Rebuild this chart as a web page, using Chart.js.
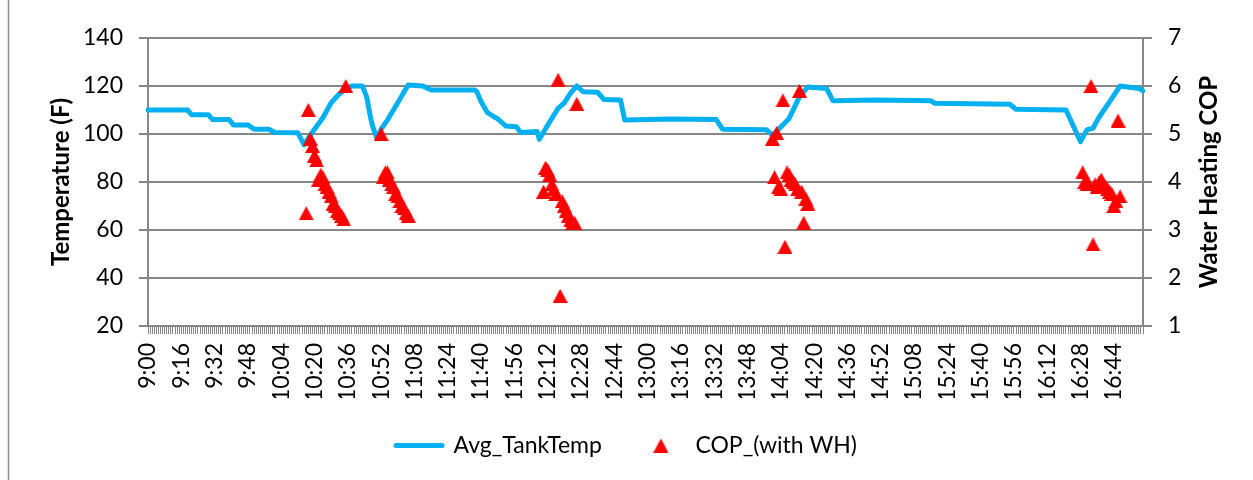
<!DOCTYPE html>
<html>
<head>
<meta charset="utf-8">
<script src="https://cdn.jsdelivr.net/npm/chart.js@4.4.1/dist/chart.umd.min.js"></script>
<style>
  html, body { margin: 0; padding: 0; background: #ffffff; }
  canvas { display: block; }
</style>
</head>
<body>
<canvas id="chart" width="1253" height="480"></canvas>
<script>
// One category per logged minute, 9:00 through 16:58
const firstMinute = 9 * 60;
const minuteCount = 479;
const categories = [];
for (let i = 0; i < minuteCount; i++) {
  const t = firstMinute + i;
  categories.push(Math.floor(t / 60) + ':' + String(t % 60).padStart(2, '0'));
}

// Labels printed under the time axis
const tickLabels = ['9:00','9:16','9:32','9:48','10:04','10:20','10:36','10:52','11:08','11:24',
  '11:40','11:56','12:12','12:28','12:44','13:00','13:16','13:32','13:48','14:04','14:20','14:36',
  '14:52','15:08','15:24','15:40','15:56','16:12','16:28','16:44'];

// Average tank temperature (F)
const tankTimes = ['9:00','9:19','9:21','9:29','9:31','9:39','9:41','9:48','9:51','9:58',
  '10:01','10:12','10:15','10:18','10:24','10:28','10:32','10:36','10:38','10:43',
  '10:45','10:47','10:48','10:50','10:52','10:55','11:00','11:05','11:12','11:16',
  '11:37','11:38','11:40','11:43','11:46','11:48','11:52','11:57','11:59','12:07',
  '12:08','12:13','12:17','12:20','12:23','12:26','12:29','12:36','12:39','12:47',
  '12:49','13:11','13:33','13:36','13:57','14:00','14:05','14:08','14:13','14:17',
  '14:26','14:29','14:50','15:16','15:18','15:54','15:57','16:21','16:28','16:31',
  '16:34','16:37','16:42','16:47','16:56','16:58'];
const tankTemps = [110,110,108,108,106,106,103.8,103.8,102,102,
  100.6,100.5,95.5,99.6,106.8,113,116.8,119.3,120,120,
  115.6,106.5,103,98.2,102,105.8,113,120.4,120,118.3,
  118.3,117.6,113.5,109,107.3,106.3,103.3,103,100.6,101,
  97.8,105.1,110.7,113,117,120,117.6,117.4,114.4,114.2,
  105.8,106.2,106,102,101.8,99.5,103.8,106.5,115.6,119.6,
  119,113.9,114.2,113.9,112.8,112.4,110.3,110,96.8,101.7,
  102.4,107.2,113.5,120,119,118];

// Water heating COP while the heat pump runs
const copTimes = ['10:16','10:17','10:18','10:19','10:20','10:21','10:22','10:23','10:24','10:25',
  '10:26','10:27','10:28','10:29','10:30','10:31','10:32','10:33','10:34','10:35',
  '10:52','10:53','10:54','10:55','10:56','10:57','10:58','10:59','11:00','11:01',
  '11:02','11:03','11:04','11:05',
  '12:10','12:11','12:12','12:13','12:14','12:15','12:16','12:17','12:18','12:19',
  '12:20','12:21','12:22','12:23','12:24','12:25','12:26',
  '14:00','14:01','14:02','14:03','14:04','14:05','14:06','14:07','14:08','14:09',
  '14:10','14:11','14:12','14:13','14:14','14:15','14:16','14:17',
  '16:29','16:30','16:31','16:32','16:33','16:34','16:35','16:36','16:37','16:38',
  '16:39','16:40','16:41','16:42','16:43','16:44','16:45','16:46','16:47'];
const copValues = [3.35,5.5,4.9,4.75,4.55,4.45,4.05,4.15,4.1,3.95,
  3.9,3.8,3.7,3.55,3.5,3.4,3.35,3.3,3.22,6.0,
  5.0,4.1,4.2,4.2,4.05,3.95,3.9,3.75,3.7,3.6,
  3.5,3.45,3.35,3.3,
  3.8,4.3,4.25,4.15,3.95,3.85,3.75,6.13,1.63,3.6,
  3.5,3.4,3.3,3.2,3.15,3.15,5.63,
  4.9,4.1,5.02,3.9,3.85,5.7,2.65,4.2,4.15,4.05,
  4.0,3.95,3.85,5.9,3.8,3.15,3.65,3.55,
  4.2,4.0,3.95,3.95,6.0,2.7,3.95,3.9,4.0,4.05,
  3.95,3.9,3.85,3.8,3.75,3.5,3.6,5.28,3.7];

const BLUE = '#00B0F0';
const RED = '#FF0000';
const GRID = '#878787';
const FONT = 'Lato';

// Triangle marker centred on its bounding box
const triangle = document.createElement('canvas');
triangle.width = 15; triangle.height = 14;
(function () {
  const g = triangle.getContext('2d');
  g.fillStyle = RED;
  g.beginPath();
  g.moveTo(7.5, 0);
  g.lineTo(15, 14);
  g.lineTo(0, 14);
  g.closePath();
  g.fill();
})();

const tickSet = new Set(tickLabels);

const frame = {
  id: 'frame',
  beforeDraw(chart) {
    const c = chart.ctx;
    c.save();
    c.fillStyle = '#ffffff';
    c.fillRect(0, 0, chart.width, chart.height);
    c.strokeStyle = '#8c8c8c';
    c.lineWidth = 1.5;
    c.beginPath();
    c.moveTo(8.5, 0); c.lineTo(8.5, chart.height);
    c.stroke();
    c.restore();
  },
  afterDraw(chart) {
    const c = chart.ctx;
    const a = chart.chartArea;
    c.save();
    c.translate(1209, (a.top + a.bottom) / 2);
    c.rotate(-Math.PI / 2);
    c.font = 'bold 24px ' + FONT;
    c.fillStyle = '#000';
    c.textAlign = 'center';
    c.textBaseline = 'middle';
    c.fillText('Water Heating COP', 0, 0);
    c.restore();
  }
};

new Chart(document.getElementById('chart'), {
  type: 'line',
  data: {
    labels: categories,
    datasets: [
      {
        label: 'COP_(with WH)',
        data: copTimes.map((t, i) => ({ x: t, y: copValues[i] })),
        yAxisID: 'y1',
        showLine: false,
        pointStyle: triangle,
        pointRadius: 8,
        pointHoverRadius: 8,
        borderWidth: 0,
        backgroundColor: RED,
        borderColor: RED,
        order: 0
      },
      {
        label: 'Avg_TankTemp',
        data: tankTimes.map((t, i) => ({ x: t, y: tankTemps[i] })),
        yAxisID: 'y',
        borderColor: BLUE,
        backgroundColor: BLUE,
        borderWidth: 5,
        borderCapStyle: 'round',
        borderJoinStyle: 'round',
        pointRadius: 0,
        tension: 0,
        order: 1
      }
    ]
  },
  options: {
    responsive: false,
    animation: false,
    devicePixelRatio: 1,
    layout: { padding: { top: 38, left: 0, right: 0, bottom: 13 } },
    plugins: {
      tooltip: { enabled: false },
      legend: {
        position: 'bottom',
        labels: {
          font: { family: FONT, size: 23 },
          color: '#000',
          usePointStyle: true,
          pointStyleWidth: 46,
          padding: 36,
          generateLabels: () => [
            { text: 'Avg_TankTemp', pointStyle: 'line', strokeStyle: BLUE, fillStyle: BLUE,
              lineWidth: 5, lineCap: 'round', datasetIndex: 1, fontColor: '#000' },
            { text: 'COP_(with WH)', pointStyle: triangle, strokeStyle: RED, fillStyle: RED,
              lineWidth: 0, datasetIndex: 0, fontColor: '#000' }
          ]
        }
      }
    },
    scales: {
      x: {
        type: 'category',
        offset: false,
        grid: { drawOnChartArea: false, drawTicks: true, tickLength: 8, color: GRID, lineWidth: 1 },
        border: { display: true, color: GRID, width: 2 },
        ticks: {
          autoSkip: false,
          minRotation: 90,
          maxRotation: 90,
          padding: 9,
          color: '#000',
          font: { family: FONT, size: 23 },
          callback: (v, i) => (tickSet.has(categories[i]) ? categories[i] : '')
        },
        afterFit: s => { s.height = 72; }
      },
      y: {
        position: 'left',
        min: 20,
        max: 140,
        ticks: { stepSize: 20, padding: 16, color: '#000', font: { family: FONT, size: 23 } },
        grid: { color: GRID, lineWidth: 2, tickLength: 9, drawTicks: true },
        border: { display: true, color: GRID, width: 2 },
        title: {
          display: true,
          text: 'Temperature (F)',
          color: '#000',
          font: { family: FONT, size: 24, weight: 'bold' },
          padding: { top: 47, bottom: 0 }
        },
        afterFit: s => { s.width = 148; }
      },
      y1: {
        position: 'right',
        min: 1,
        max: 7,
        ticks: { stepSize: 1, padding: 16, color: '#000', font: { family: FONT, size: 23 } },
        grid: { drawOnChartArea: false, color: GRID, lineWidth: 2, tickLength: 9, drawTicks: true },
        border: { display: true, color: GRID, width: 2 },
        afterFit: s => { s.width = 110; }
      }
    }
  },
  plugins: [frame]
});
</script>
</body>
</html>
